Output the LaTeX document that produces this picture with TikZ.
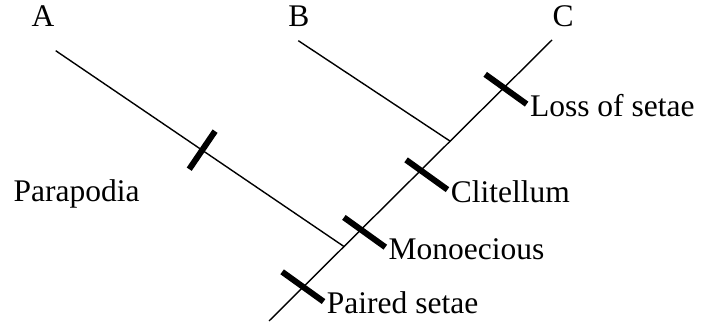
\documentclass[tikz,border=0pt]{standalone}
\usepackage{fontspec}
\setmainfont{Liberation Serif}
\usetikzlibrary{calc}

\begin{document}
\begin{tikzpicture}[x=0.5pt, y=-0.5pt,
  ramo/.style={line width=0.7pt},
  marca/.style={line width=3pt},
  taxon/.style={anchor=base, inner sep=0pt, font=\fontsize{15.75}{18}\selectfont},
  rotulo/.style={anchor=base west, inner sep=0pt, font=\fontsize{15.75}{18}\selectfont}]
  \useasboundingbox (0,0) rectangle (701,324);

  % Terminais
  \node[taxon] (A) at (43,26.7) {A};
  \node[taxon] (B) at (299,26.7) {B};
  \node[taxon] (C) at (563,26.7) {C};

  % Ramos
  \coordinate (raiz) at (269,321);
  \coordinate (pA) at (55.7,50.7);
  \coordinate (pB) at (298.3,40.7);
  \coordinate (pC) at (552,40);
  \coordinate (nA) at ($(raiz)!0.265!(pC)$);
  \coordinate (nB) at ($(raiz)!0.64!(pC)$);
  \draw[ramo] (raiz) -- (pC);
  \draw[ramo] (pA) -- (nA);
  \draw[ramo] (pB) -- (nB);

  % Caracteres
  \coordinate (c0) at ($(pA)!0.508!(nA)$);
  \draw[marca] ($(c0)+(-55.8:23)$) -- ($(c0)+(124.2:23)$);
  \node[rotulo] (para) at (13.3,201.7) {Parapodia};

  \coordinate (c1) at ($(raiz)!0.121!(pC)$);
  \draw[marca] ($(c1)+(215.7:26)$) -- ($(c1)+(35.7:25)$) coordinate (c1f);
  \node[rotulo] (par) at ($(c1f)+(3,12)$) {Paired setae};

  \coordinate (c2) at ($(raiz)!0.325!(pC)$);
  \draw[marca] ($(c2)+(215.7:21)$) -- ($(c2)+(35.7:30)$) coordinate (c2f);
  \node[rotulo] (mono) at ($(c2f)+(3,12)$) {Monoecious};

  \coordinate (c3) at ($(raiz)!0.536!(pC)$);
  \draw[marca] ($(c3)+(215.7:18)$) -- ($(c3)+(35.7:33)$) coordinate (c3f);
  \node[rotulo] (cli) at ($(c3f)+(3,13)$) {Clitellum};

  \coordinate (c4) at ($(raiz)!0.83!(pC)$);
  \draw[marca] ($(c4)+(215.7:23)$) -- ($(c4)+(35.7:28)$) coordinate (c4f);
  \node[rotulo] (loss) at ($(c4f)+(3,12)$) {Loss of setae};
\end{tikzpicture}
\end{document}
